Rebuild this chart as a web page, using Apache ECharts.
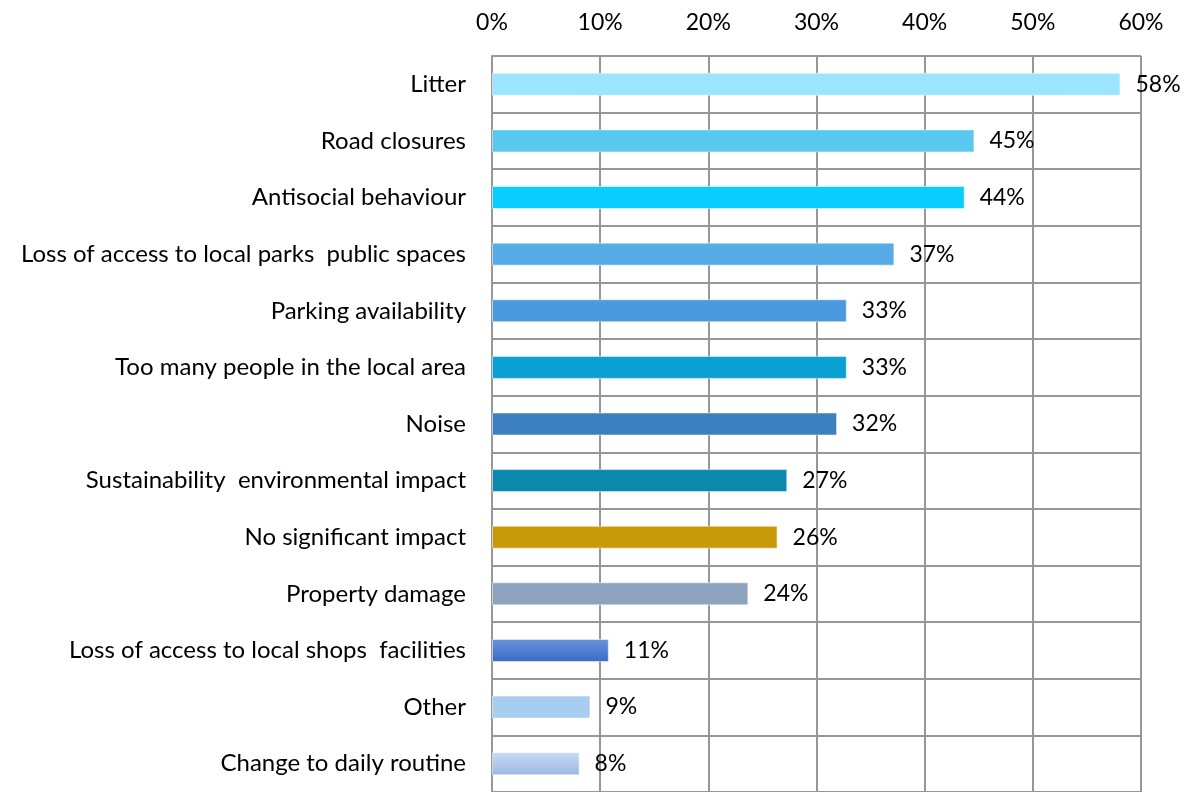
<!DOCTYPE html>
<html>
<head>
<meta charset="utf-8">
<script src="https://cdn.jsdelivr.net/npm/echarts@6/dist/echarts.min.js"></script>
<style>
html,body{margin:0;padding:0;background:#fff;}
#main{width:1191px;height:792px;}
</style>
</head>
<body>
<div id="main"></div>
<script>
var categories = ["Litter","Road closures","Antisocial behaviour","Loss of access to local parks  public spaces","Parking availability","Too many people in the local area","Noise","Sustainability  environmental impact","No significant impact","Property damage","Loss of access to local shops  facilities","Other","Change to daily routine"];
var values = [58.1,44.6,43.7,37.2,32.8,32.8,31.9,27.3,26.4,23.7,10.8,9.1,8.1];
var colors = ["#9be6fe","#58c8ee","#0bcdfe","#58ace6","#4b9ae0","#0ba0d3","#3d80c2","#0a88ad","#c89a0a","#8ea4be",
	["#6b92db","#3a6ac9"],"#a7cdf0",["#c6dcf6","#9db8e1"]];
var xTicks = [0,10,20,30,40,50,60];

var barData=[];
for(var i=0;i<values.length;i++){
	var c=colors[i];
	if(typeof c!="string"){
		c=new echarts.graphic.LinearGradient(0,0,0,1,[{offset:0,color:c[0]},{offset:1,color:c[1]}]);
	}
	barData.push({value:values[i],itemStyle:{color:c}});
}

var myChart = echarts.init(document.getElementById('main'));
var option = {
	animation:false,
	textStyle:{fontFamily:'Lato'},
	grid:{
		left:492,
		right:50,
		top:56,
		height:742
	},
	xAxis:[{
		type:'value',
		position:'top',
		min:xTicks[0],
		max:xTicks[xTicks.length-1],
		interval:10,
		axisLine:{show:false},
		axisTick:{show:false},
		axisLabel:{
			margin:22,
			fontSize:23,
			color:'#000',
			fontFamily:'Lato',
			formatter:function(v){return v+'%';}
		},
		splitLine:{show:true,lineStyle:{color:'#979797',width:2}}
	}],
	yAxis:[{
		type:'category',
		inverse:true,
		data:categories,
		axisLine:{show:true,lineStyle:{color:'#979797',width:2}},
		axisTick:{show:false},
		axisLabel:{
			margin:26,
			fontSize:24,
			color:'#000',
			fontFamily:'Lato'
		},
		splitLine:{show:true,lineStyle:{color:'#979797',width:2}}
	}],
	series:[{
		type:'bar',
		data:barData,
		barWidth:23,
		itemStyle:{borderColor:'rgba(255,255,255,0.5)',borderWidth:1},
		label:{
			show:true,
			position:'right',
			distance:15,
			fontSize:23,
			color:'#000',
			fontFamily:'Lato',
			formatter:function(p){return Math.round(p.value)+'%';}
		}
	}]
};
myChart.setOption(option);
</script>
</body>
</html>
